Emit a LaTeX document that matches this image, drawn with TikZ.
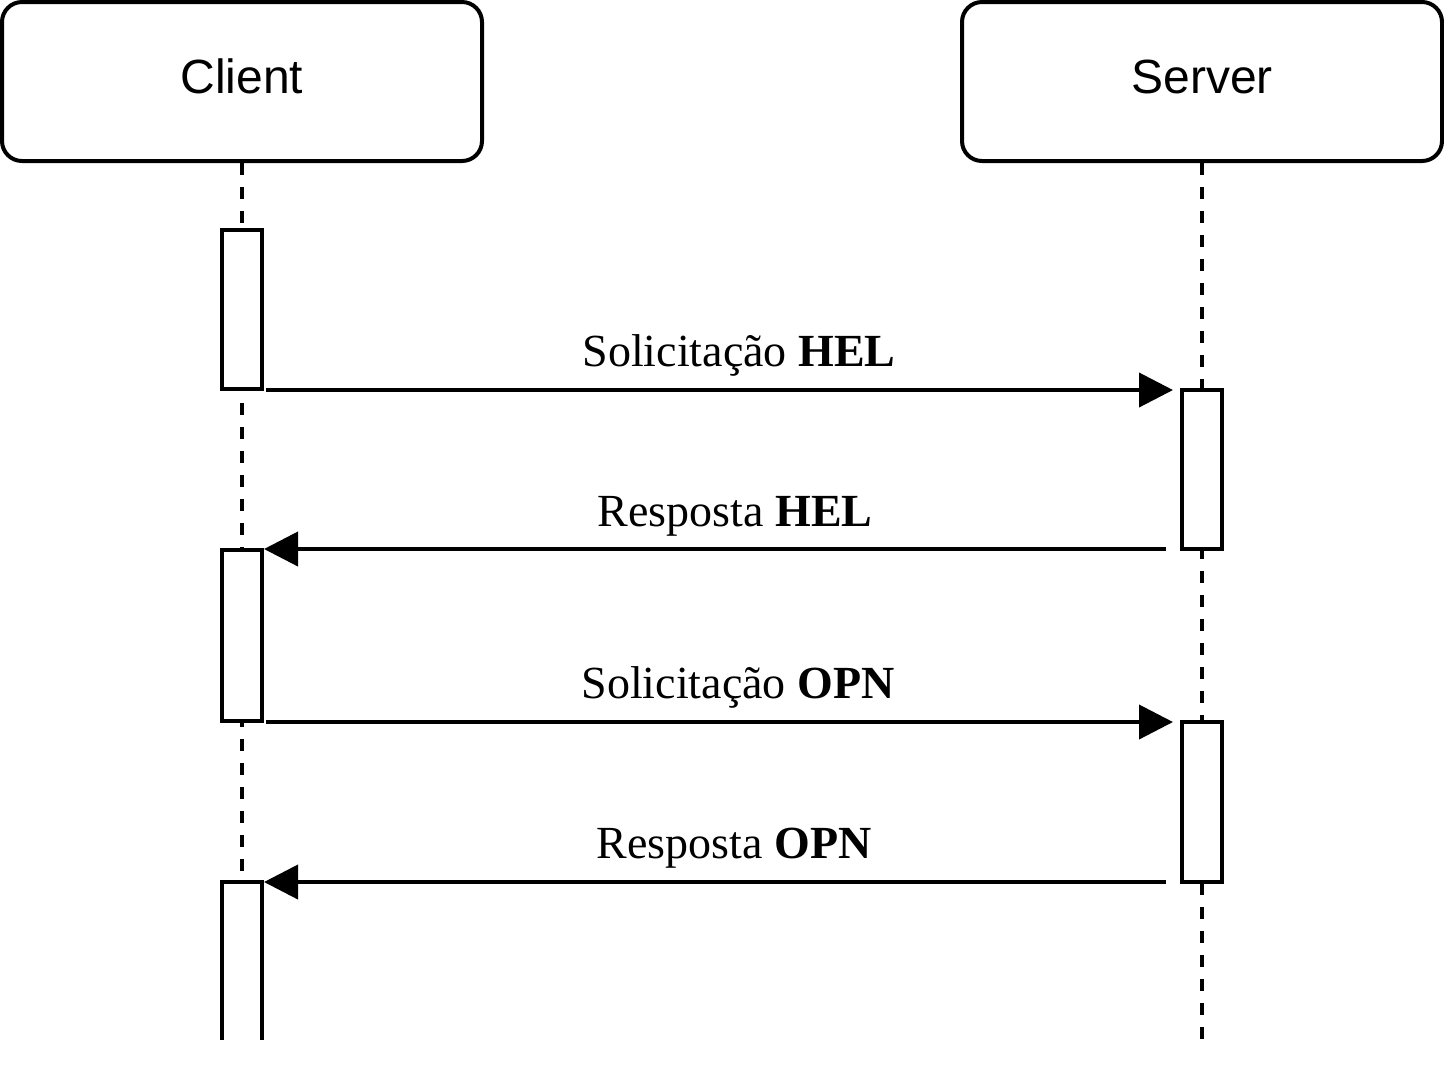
\documentclass[tikz,border=0pt]{standalone}
\usepackage{fontspec}
\setmainfont{Liberation Serif}
\newfontfamily\actorfont{Liberation Sans}
\usetikzlibrary{positioning}
\usetikzlibrary{arrows.meta}

\begin{document}
\begin{tikzpicture}[x=0.5pt, y=-0.5pt, line width=2pt,
	actor/.style={draw, rounded corners=10pt, minimum width=240pt, minimum height=79.5pt, text height=17pt, text depth=5.5pt, font=\actorfont\fontsize{24}{28}\selectfont},
	act/.style={draw, fill=white, minimum width=20pt, inner sep=0pt, outer sep=0pt, anchor=north},
	life/.style={dash pattern=on 6pt off 6pt},
	msg/.style={-{Triangle[length=17pt, width=17pt]}},
	lbl/.style={anchor=base, font=\fontsize{23}{27}\selectfont}]
	\useasboundingbox (0,0) rectangle (1444,1084);

	\node [actor] (client) at (242,81.5) {Client};
	\node [actor] (server) at (1202,81.5) {Server};
	\coordinate (cend) at (242,1040);
	\coordinate (send) at (1202,1040);
	\draw[life] (client.south) -- (cend);
	\draw[life] (server.south) -- (send);

	\node [act, minimum height=79.5pt] (c1) at (242,230) {};
	\node [act, minimum height=79.5pt] (s1) at (1202,390) {};
	\node [act, minimum height=85.5pt] (c2) at (242,550) {};
	\node [act, minimum height=80pt] (s2) at (1202,722) {};
	\node [act, draw=none, minimum height=79pt] (c3) at (242,882) {};
	\draw (c3.south west) |- (c3.north east) -- (c3.south east);

	\draw[msg, shorten <=2pt, shorten >=4.5pt] (c1.east |- s1.north) -- (s1.north west);
	\draw[msg, shorten <=8pt, shorten >=1pt] (s1.south west) -- (s1.south west -| c2.east);
	\draw[msg, shorten <=2pt, shorten >=4.5pt] (c2.east |- s2.north) -- (s2.north west);
	\draw[msg, shorten <=8pt, shorten >=1pt] (s2.south west) -- (s2.south west -| c3.east);

	\node [lbl] (m1) at (739,366) {Solicitação \textbf{HEL}};
	\node [lbl] (m2) at (735,526) {Resposta \textbf{HEL}};
	\node [lbl] (m3) at (738,698) {Solicitação \textbf{OPN}};
	\node [lbl] (m4) at (734,858) {Resposta \textbf{OPN}};
\end{tikzpicture}
\end{document}
